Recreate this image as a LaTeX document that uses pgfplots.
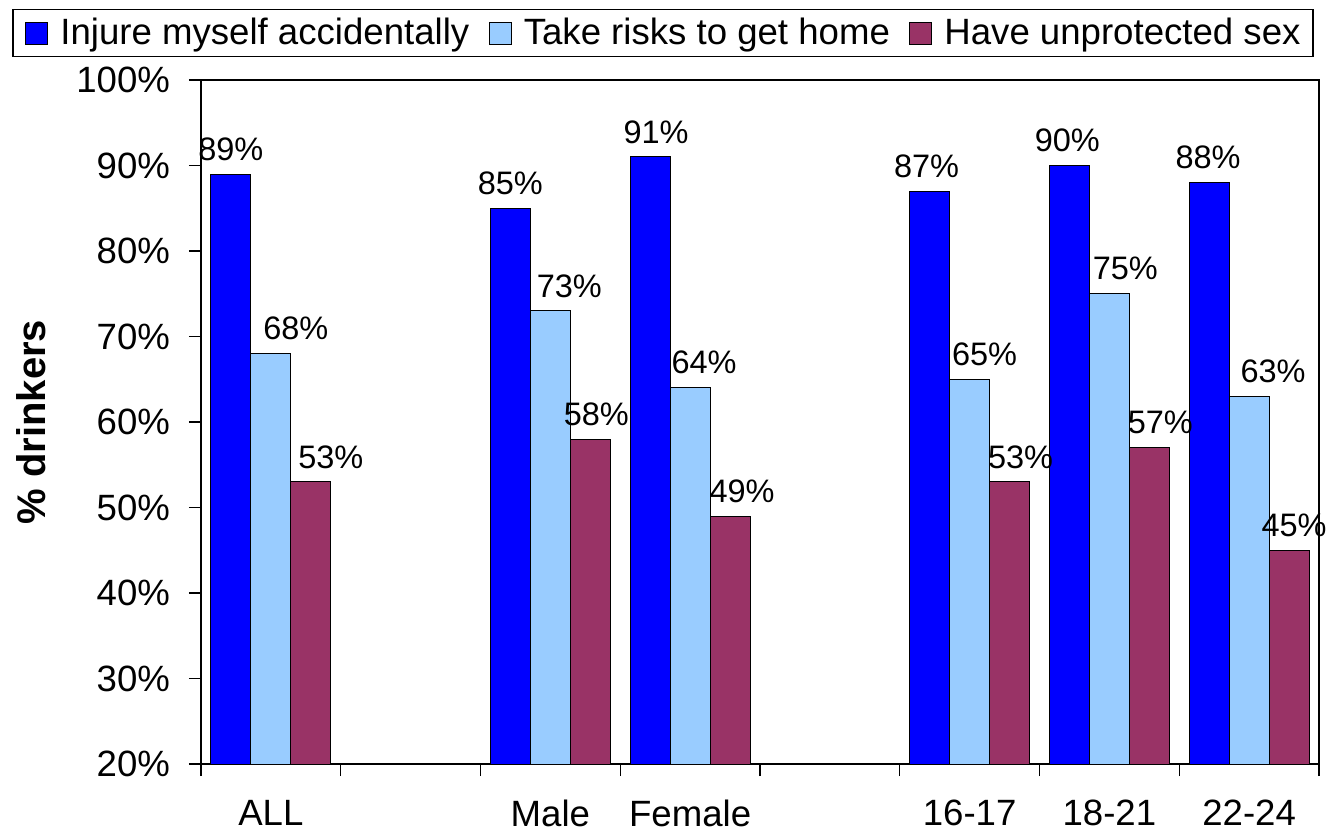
\documentclass[border=0pt]{standalone}
\usepackage{fontspec}
\setmainfont{Liberation Sans}
\usepackage{pgfplots}
\pgfplotsset{compat=1.18}
\usepackage{pgfplotstable}
\definecolor{cblue}{HTML}{0000FF}
\definecolor{clight}{HTML}{99CCFF}
\definecolor{cmaroon}{HTML}{993366}

\pgfplotstableread{
x y dx
0 89 0
2 85 0
3 91 3
5 87 -1.5
6 90 -1
7 88 -0.5
}\tblA
\pgfplotstableread{
x y dx
0 68 12.5
2 73 9.5
3 64 7
5 65 7.5
6 75 8
7 63 12
}\tblB
\pgfplotstableread{
x y dx
0 53 10
2 58 3
3 49 6
5 53 5.5
6 57 5.5
7 45 2.5
}\tblC

\pgfplotsset{mylegend/.style={legend image code/.code={\draw[##1,draw=black,line width=0.5pt] (0pt,-5.5pt) rectangle (11pt,5.5pt);}}}

\begin{document}
\begin{tikzpicture}
\useasboundingbox (0,0) rectangle (665pt,416pt);
\begin{axis}[
  at={(100.5pt,34pt)}, anchor=south west,
  scale only axis, width=559pt, height=342pt,
  xmin=-0.5, xmax=7.5, ymin=20, ymax=100,
  ybar=0pt, bar width=20pt,
  xtick={-0.5,0.5,1.5,2.5,3.5,4.5,5.5,6.5,7.5},
  x tick label as interval,
  xticklabels={ALL,,Male,Female,,16-17,18-21,22-24},
  ytick={20,30,40,50,60,70,80,90,100},
  yticklabels={20\%,30\%,40\%,50\%,60\%,70\%,80\%,90\%,100\%},
  /pgf/number format/assume math mode=true,
  tick pos=left, tick align=outside, major tick length=6pt,
  tick style={black, line width=0.6pt},
  axis line style={black, line width=0.75pt},
  tick label style={font=\fontsize{18.3}{22}\selectfont},
  yticklabel style={xshift=-6pt},
  xticklabel style={yshift=-8.5pt},
  ylabel={\% drinkers},
  ylabel style={font=\bfseries\fontsize{20}{24}\selectfont, at={(axis description cs:-0.1521,0.5)}, anchor=center},
  legend columns=3,
  legend style={at={(0.4132,1.0687)}, anchor=center, draw=black, line width=0.6pt, fill=white,
    inner xsep=6.25pt, inner ysep=4.5pt, font=\fontsize{18.3}{22}\selectfont,
    nodes={inner sep=0pt},
    /tikz/every odd column/.style={column sep=6pt},
    /tikz/every even column/.style={column sep=9.75pt}},
  legend cell align=left,
  nodes near coords={\pgfmathprintnumber{\pgfplotspointmeta}\%},
  every node near coord/.append style={font=\fontsize{16.25}{19}\selectfont, anchor=center, yshift=12.5pt, xshift=\dx pt, black},
]
\addplot[mylegend, fill=cblue, draw=black, line width=0.5pt, visualization depends on={\thisrow{dx} \as \dx}] table[x=x,y=y] {\tblA};
\addlegendentry{Injure myself accidentally}
\addplot[mylegend, fill=clight, draw=black, line width=0.5pt, visualization depends on={\thisrow{dx} \as \dx}] table[x=x,y=y] {\tblB};
\addlegendentry{Take risks to get home}
\addplot[mylegend, fill=cmaroon, draw=black, line width=0.5pt, visualization depends on={\thisrow{dx} \as \dx}] table[x=x,y=y] {\tblC};
\addlegendentry{Have unprotected sex}
\end{axis}
\end{tikzpicture}
\end{document}
